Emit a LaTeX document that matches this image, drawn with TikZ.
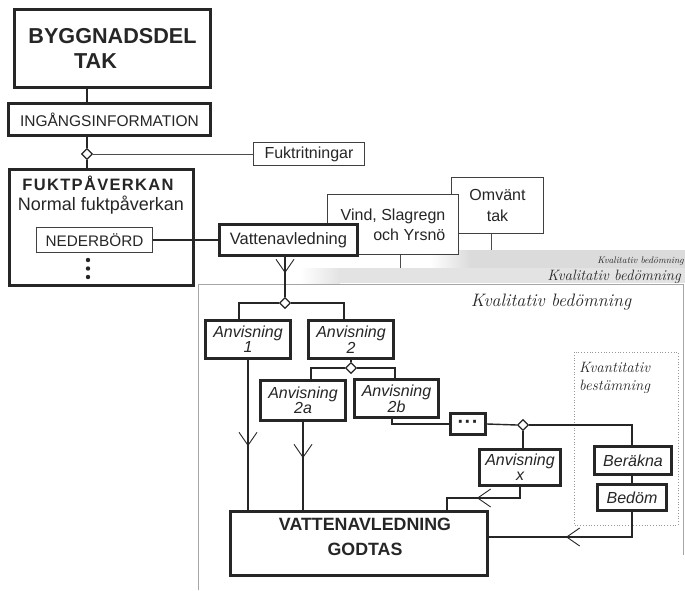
\documentclass[tikz,border=0pt]{standalone}
\usepackage{fontspec}
\setmainfont{Liberation Sans}
\usetikzlibrary{shapes.geometric,arrows.meta,decorations.markings}
\newcommand\scrfont{\usefont{TU}{lmr}{m}{it}}
\begin{document}
\begin{tikzpicture}[x=1pt,y=-1pt,
  thickbox/.style={draw=black!85, line width=3.2pt, fill=white, inner sep=0pt, align=center, text=black!85, font=\fontsize{16}{19}\selectfont},
  thinbox/.style={draw=black!75, line width=1pt, fill=white, inner sep=0pt, align=center, text=black!85, font=\fontsize{16}{19}\selectfont},
  anv/.style={thickbox, font=\fontsize{16}{13}\selectfont\itshape},
  dia/.style={diamond, draw=black!85, line width=1.2pt, fill=white, inner sep=0pt, minimum width=11pt, minimum height=11pt},
  conn/.style={draw=black!85, line width=1.4pt},
  thinconn/.style={draw=black!70, line width=0.9pt},
  vat/.style={postaction={decorate}, decoration={markings, mark=at position #1 with {\arrow{Straight Barb[length=13pt,width=18pt,line width=0.9pt]}}}},
  scr/.style={inner sep=0pt, text=black!85}
]
\useasboundingbox (0,0) rectangle (685,590);
\fill[white] (0,0) rectangle (685,590);

% grey bands and panel
\shade[left color=white, right color=gray!28] (430,250) rectangle (470,268);
\fill[gray!28] (470,250) rectangle (685,268);
\shade[left color=white, right color=gray!22] (300,268) rectangle (340,283);
\fill[gray!22] (340,268) rectangle (685,283);
\draw[gray!70, line width=0.8pt] (198,590) -- (198,284) -- (683,284) -- (683,555);
\node[scr, anchor=east, font=\fontsize{9.5}{11}\scrfont] (qb1) at (684,261) {Kvalitativ bedömning};
\node[scr, anchor=east, font=\fontsize{15}{16}\scrfont] (qb2) at (681,277) {Kvalitativ bedömning};
\node[scr, font=\fontsize{18}{19}\scrfont] (qb3) at (551,302) {Kvalitativ bedömning};

% dotted quantitative box
\draw[gray!80, line width=0.8pt, dotted] (574,352) rectangle (678,525);
\node[scr, anchor=north west, align=left, font=\fontsize{15}{18}\scrfont] (kvant) at (579,362) {Kvantitativ\\bestämning};

% top boxes
\node[thickbox, minimum width=196pt, minimum height=78pt, font=\fontsize{21.6}{25}\selectfont\bfseries] (bygg) at (112.5,48.5) {BYGGNADSDEL\\\hspace*{-34pt}TAK};
\node[thickbox, minimum width=202pt, minimum height=32pt, font=\fontsize{15.5}{18}\selectfont] (ing) at (109.5,119.5) {INGÅNGSINFORMATION};
\node[thickbox, minimum width=184pt, minimum height=116pt] (fukt) at (101.5,227.5) {};
\node[inner sep=0pt, text=black!85, font=\fontsize{16.5}{18}\selectfont\bfseries\addfontfeature{LetterSpace=8}] (fukttit) at (98,183) {FUKTPÅVERKAN};
\node[inner sep=0pt, text=black!85, font=\fontsize{18}{21}\selectfont] (normal) at (101,205) {Normal fuktpåverkan};
\node[thinbox, line width=1.2pt, minimum width=116pt, minimum height=25pt, font=\fontsize{15.3}{18}\selectfont] (ned) at (94.5,240) {NEDERBÖRD};
\foreach \yy in {260,268.5,277} \fill[black!85] (88,\yy) circle (2.2pt);
\node[thinbox, minimum width=111pt, minimum height=23pt] (fuktr) at (309,154) {Fuktritningar};

\node[thinbox, minimum width=92pt, minimum height=56pt, font=\fontsize{16}{20}\selectfont] (omv) at (497.5,205.5) {Omvänt\\[1pt]tak};
\node[thinbox, minimum width=131pt, minimum height=60pt, align=right, font=\fontsize{16}{20}\selectfont] (vind) at (393,224.5) {Vind, Slagregn\\och Yrsnö};
\node[thickbox, minimum width=138pt, minimum height=31pt, font=\fontsize{16.5}{19}\selectfont] (vatt) at (288.5,240) {Vattenavledning};

% panel boxes
\node[anv, minimum width=85pt, minimum height=38pt] (a1) at (248,339.5) {Anvisning\\1};
\node[anv, minimum width=85pt, minimum height=38pt] (a2) at (351,339.5) {Anvisning\\2};
\node[anv, minimum width=85pt, minimum height=40pt] (a2a) at (303,400.5) {Anvisning\\2a};
\node[anv, minimum width=84pt, minimum height=38pt] (a2b) at (396.5,398.5) {Anvisning\\2b};
\node[thickbox, minimum width=35pt, minimum height=21pt, font=\fontsize{20}{20}\selectfont\bfseries] (more) at (468,424) {·\hspace{0.5pt}·\hspace{0.5pt}·};
\node[anv, minimum width=81pt, minimum height=36pt] (ax) at (520,467.5) {Anvisning\\[2pt]x};
\node[anv, minimum width=77pt, minimum height=28pt] (ber) at (633,460.5) {Beräkna};
\node[anv, minimum width=69pt, minimum height=26pt] (bed) at (632,497.5) {Bedöm};
\node[thickbox, minimum width=257pt, minimum height=64pt] (godt) at (359,543.5) {};
\node[inner sep=0pt, align=center, text=black!85, font=\fontsize{17.8}{25}\selectfont\bfseries] (godttxt) at (365,536.5) {VATTENAVLEDNING\\GODTAS};

% diamonds
\node[dia] (d1) at (87,154) {};
\node[dia] (d2) at (285,303) {};
\node[dia] (d3) at (351,368) {};
\node[dia] (d4) at (523,425) {};

% coordinates
\coordinate (vindend) at (400,268);
\coordinate (omvend) at (491,250);

% connectors
\draw[conn] (bygg.south -| d1) -- (ing.north -| d1);
\draw[conn] (ing.south -| d1) -- (d1.north);
\draw[conn] (d1.south) -- (fukt.north -| d1);
\draw[thinconn] (d1.east) -- (fuktr.west);
\draw[conn] (ned.east) -- (vatt.west);
\draw[thinconn] (vind.south -| vindend) -- (vindend);
\draw[thinconn] (omv.south -| omvend) -- (omvend);
\draw[conn, vat=16pt] (vatt.south -| d2) -- (d2.north);
\draw[conn] (d2.west) -| (a1.north -| 239,0);
\draw[conn] (d2.east) -| (a2.north -| 344,0);
\draw[conn] (a2.south -| d3) -- (d3.north);
\draw[conn] (d3.west) -| (a2a.north -| 311,0);
\draw[conn] (d3.east) -| (a2b.north -| 395,0);
\draw[conn, vat=86pt] (a1.south) -- (godt.north -| a1);
\draw[conn, vat=36pt] (a2a.south) -- (godt.north -| a2a);
\draw[conn] (a2b.south -| 392,0) |- (more.west);
\draw[conn] (more.east) -- (d4.west);
\draw[conn] (d4.east) -| (ber.north -| bed);
\draw[conn] (d4.south) -- (ax.north -| d4);
\draw[conn, vat=54pt] (ax.south) -- (520,498) -- (447,498) -- (godt.north -| 447,0);
\draw[conn] (ber.south -| bed) -- (bed.north);
\draw[conn, vat=91pt] (bed.south) -- (632,537) -- (godt.east |- 0,537);
\end{tikzpicture}
\end{document}
